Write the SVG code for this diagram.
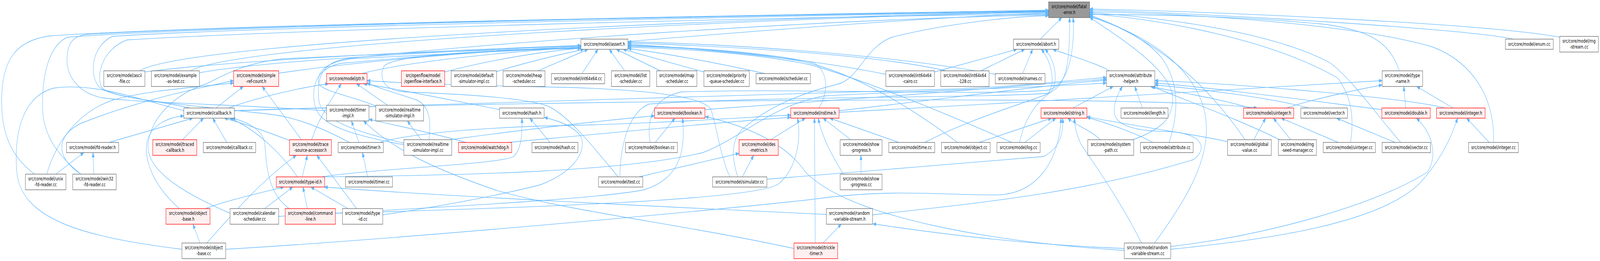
<svg xmlns="http://www.w3.org/2000/svg" width="5919" height="667" viewBox="0 0 5919 667" preserveAspectRatio="none">
<style>
svg{width:100vw;height:100vh;display:block}
.node rect{fill:#ffffff;stroke:#666666;stroke-width:1.33}
.node.red rect{fill:#fff0f0;stroke:#ff0000}
.node.top rect{fill:#999999;stroke:#666666}
.node text{font-family:"DejaVu Sans","Liberation Sans",sans-serif;font-size:13px;text-anchor:middle;fill:#000000}
#edges path{fill:none;stroke:#63b8ff;stroke-width:1.33;marker-end:url(#ah)}
</style>
<defs>
<marker id="ah" viewBox="0 0 12 9" refX="12" refY="4.5" markerWidth="12" markerHeight="9" markerUnits="userSpaceOnUse" orient="auto"><path d="M0,0 L12,4.5 L0,9 Z" fill="#63b8ff" stroke="#63b8ff" stroke-width="1"/></marker>
</defs>
<rect x="0" y="0" width="5919" height="667" fill="#ffffff"/>
<g id="edges">
<path d="M2323,106 C2700,85 3400,45 3879,33"/>
<path d="M3848,100 L3928,45"/>
<path d="M516,181 C700,100 3000,40 3879,30"/>
<path d="M704,181 C900,105 3000,42 3879,31"/>
<path d="M128,445 C40,400 6,340 6,260 C6,150 60,105 180,92 C800,62 3000,36 3879,26"/>
<path d="M299,445 C220,400 157,350 157,270 C157,160 200,110 250,95 C900,62 3000,37 3879,27"/>
<path d="M700,276 C600,258 400,248 375,222 C355,190 380,125 470,102 C1200,72 3000,42 3879,36"/>
<path d="M1208,283 C900,268 500,262 380,250 C300,240 245,200 248,150 C250,110 270,92 320,88 C1000,60 3000,38 3879,28"/>
<path d="M1293,364 C1200,330 1100,300 1000,292 C700,268 420,255 368,223 C330,195 335,120 415,93 C1000,66 3000,40 3879,29"/>
<path d="M1494,366 C1310,335 1200,310 1180,260 C1170,200 1190,160 1280,150 C1800,110 3000,50 3879,38"/>
<path d="M2405,364 C2390,300 2420,250 2520,235 C2900,225 3700,245 3880,230 C3960,215 3975,120 3970,45"/>
<path d="M3772,364 C3790,300 3840,255 3900,230 C3950,205 3957,150 3957,45"/>
<path d="M4191,357 C4300,330 4340,300 4338,250 C4335,180 4150,100 4031,44"/>
<path d="M4325,364 C4355,300 4370,220 4300,150 C4230,90 4100,55 4031,41"/>
<path d="M4606,357 C4520,270 4350,120 4031,38"/>
<path d="M4996,364 C5010,300 5000,250 4950,200 C4700,100 4300,50 4031,35"/>
<path d="M5182,364 C5100,300 5000,200 4919,160 C4700,80 4300,45 4031,32"/>
<path d="M5525,364 C5530,250 5450,160 5300,120 C5000,60 4400,35 4031,30"/>
<path d="M5598,100 C5450,75 4500,35 4031,26"/>
<path d="M5770,95 C5500,60 4500,30 4031,23"/>
<path d="M5177,181 C5140,110 5080,80 4900,62 C4600,42 4300,37 4031,37"/>
<path d="M4271,621 C4400,500 4480,400 4460,300 C4440,200 4300,100 4031,43"/>
<path d="M2729,452 C2705,400 2705,355 2750,328 C2850,268 2980,235 3100,215 C3180,200 3200,120 3300,95 C3500,60 3750,42 3879,40"/>
<path d="M536,184 C900,150 1800,125 2149,116"/>
<path d="M738,186 C1000,152 1800,126 2149,117"/>
<path d="M1031,187 C1400,150 1900,126 2149,119"/>
<path d="M1338,188 C1500,158 1900,130 2149,121"/>
<path d="M1645,184 C1800,155 2000,132 2149,123"/>
<path d="M1837,183 C1950,158 2080,138 2160,126"/>
<path d="M1990,181 C2060,160 2130,140 2175,126"/>
<path d="M2153,188 L2212,126"/>
<path d="M2311,181 L2254,126"/>
<path d="M2443,181 L2280,126"/>
<path d="M2604,184 L2305,126"/>
<path d="M2829,188 C2650,160 2450,135 2323,124"/>
<path d="M1395,272 C1300,245 1200,235 1180,215 C1170,185 1200,160 1300,150 C1700,135 2000,125 2149,121"/>
<path d="M3030,276 C3070,230 3060,180 3010,160 C2800,130 2500,120 2323,116"/>
<path d="M3542,364 C3400,290 3200,200 3000,162 C2800,132 2500,120 2323,118"/>
<path d="M3743,364 C3500,290 3200,205 3000,166 C2800,136 2500,123 2323,121"/>
<path d="M3277,190 C3000,150 2600,125 2323,113"/>
<path d="M3500,181 C3250,140 2700,118 2323,110"/>
<path d="M3682,190 C3300,140 2700,112 2323,107"/>
<path d="M851,545 C700,500 540,440 548,370 C555,300 650,240 760,215 C800,205 880,162 1050,150 C1500,135 1900,126 2149,123"/>
<path d="M2287,452 C2200,380 2110,300 2030,272 C1950,250 1700,240 1500,235 C1420,232 1400,200 1420,170 C1450,140 1800,128 2149,124"/>
<path d="M1494,370 C1300,345 1180,320 1165,270 C1150,220 1170,175 1260,162 C1600,140 1900,126 2149,122"/>
<path d="M3457,184 L3762,126"/>
<path d="M3628,181 L3791,126"/>
<path d="M3783,188 L3820,126"/>
<path d="M3421,364 C3600,300 3800,262 3875,240 C3905,220 3895,160 3852,126"/>
<path d="M2293,452 C2295,380 2320,290 2400,266 C2800,246 3700,250 3880,238 C3915,225 3912,160 3866,126"/>
<path d="M4105,181 C4050,160 3950,140 3895,126"/>
<path d="M799,276 L900,221"/>
<path d="M1115,357 L970,221"/>
<path d="M173,445 C200,380 270,290 420,255 C560,230 700,225 864,212"/>
<path d="M299,445 C200,400 210,345 300,315 C500,260 700,230 864,206"/>
<path d="M845,276 C950,250 1100,225 1215,214"/>
<path d="M1153,357 C1180,300 1230,250 1262,214"/>
<path d="M1434,269 L1319,214"/>
<path d="M1848,280 C1700,260 1450,225 1345,214"/>
<path d="M1587,357 C1595,310 1590,270 1540,255 C1450,235 1400,225 1358,212"/>
<path d="M2700,452 C2665,400 2650,320 2630,280 C2600,240 2300,225 2000,222 C1700,218 1450,211 1358,206"/>
<path d="M403,364 L713,302"/>
<path d="M675,357 L753,302"/>
<path d="M839,364 L787,302"/>
<path d="M1075,360 C1000,340 900,315 830,302"/>
<path d="M1100,452 C1050,400 950,330 850,302"/>
<path d="M1070,533 C990,495 985,420 980,370 C975,330 910,310 858,302"/>
<path d="M663,533 C560,470 530,400 545,360 C560,320 620,300 680,296"/>
<path d="M1118,452 L1137,397"/>
<path d="M1319,533 L1172,397"/>
<path d="M765,621 C850,555 960,465 1096,397"/>
<path d="M760,533 C850,510 980,490 1050,478"/>
<path d="M979,533 L1083,478"/>
<path d="M1137,533 L1121,478"/>
<path d="M1287,533 L1150,478"/>
<path d="M3057,548 C2500,530 1600,500 1200,478"/>
<path d="M1328,364 L1300,309"/>
<path d="M2937,635 C2500,570 2100,540 1830,485 C1600,430 1450,380 1345,309"/>
<path d="M1724,364 C1600,340 1450,318 1365,305"/>
<path d="M1558,357 L1507,309"/>
<path d="M2035,364 L1960,302"/>
<path d="M1190,452 C1400,430 1850,420 1900,400 C1930,380 1932,340 1931,302"/>
<path d="M1416,549 C1700,520 1900,490 2000,472 C2120,440 2170,390 2150,350 C2120,320 2060,308 2014,300"/>
<path d="M2424,364 L2497,302"/>
<path d="M1665,357 C1900,335 2200,310 2421,296"/>
<path d="M1031,553 C1600,530 2200,510 2383,485 C2500,460 2540,400 2525,302"/>
<path d="M4159,640 C3700,620 3150,560 2980,440 C2900,360 2750,320 2609,298"/>
<path d="M1405,364 C1500,345 1700,330 2000,322 C2400,318 2750,300 2925,294"/>
<path d="M1880,364 C2250,340 2700,310 2925,300"/>
<path d="M2851,357 L2979,302"/>
<path d="M3147,357 L3045,302"/>
<path d="M3120,445 C3080,400 3040,350 3027,302"/>
<path d="M3325,364 L3070,302"/>
<path d="M3016,621 L3013,302"/>
<path d="M1241,545 C2000,530 2800,510 2880,470 C2950,430 2965,350 2950,302"/>
<path d="M3622,364 L3890,302"/>
<path d="M3791,364 L3906,302"/>
<path d="M4070,357 C4040,335 3980,320 3950,302"/>
<path d="M4265,364 C4200,340 4100,315 4021,300"/>
<path d="M4541,362 C4400,340 4150,318 4021,298"/>
<path d="M2837,458 C3000,449 3600,415 3860,400 C3920,380 3935,340 3931,302"/>
<path d="M835,637 C1500,610 2600,540 3000,510 C3300,480 3500,500 3700,498 C3850,490 3920,400 3925,302"/>
<path d="M4223,621 C4150,520 4050,420 4000,370 C3980,340 3975,320 3975,302"/>
<path d="M867,283 C1500,268 3000,240 3500,228 C3800,220 3950,205 4093,198"/>
<path d="M2608,280 C3000,262 3700,225 4093,202"/>
<path d="M3104,283 C3500,252 3900,215 4093,205"/>
<path d="M3969,276 L4118,221"/>
<path d="M4226,276 L4198,221"/>
<path d="M4625,276 C4500,250 4350,235 4256,221"/>
<path d="M4842,276 C4700,250 4450,228 4272,217"/>
<path d="M5112,280 C4900,262 4500,225 4272,212"/>
<path d="M5346,276 C5200,250 4600,215 4272,206"/>
<path d="M3228,549 C3600,520 4000,495 4415,408 C4470,380 4450,340 4320,336 C4200,336 4122,320 4122,285 C4122,255 4140,235 4152,221"/>
<path d="M4733,357 C4600,310 4400,260 4262,221"/>
<path d="M1195,452 C1700,448 2300,440 2600,390 C2750,350 2850,270 3050,245 C3400,232 3900,222 4093,212"/>
<path d="M3104,287 C3800,262 4700,222 5113,206"/>
<path d="M4759,276 C4850,255 5000,232 5113,217"/>
<path d="M5200,276 L5193,221"/>
<path d="M5375,276 L5241,221"/>
<path d="M4638,357 L4682,302"/>
<path d="M4775,357 L4711,302"/>
<path d="M4950,364 L4740,302"/>
<path d="M673,637 C300,605 80,560 62,440 C50,330 90,245 200,225 C350,210 520,255 680,283 L867,283 C1500,265 4200,235 4650,276"/>
<path d="M5161,364 L4945,302"/>
<path d="M4331,630 C4700,600 5100,520 5280,440 C5320,400 5300,340 5240,302"/>
<path d="M5509,364 L5426,302"/>
<path d="M4331,637 C4700,612 5100,570 5250,470 C5330,410 5370,350 5392,302"/>
<path d="M207,445 L310,390"/>
<path d="M347,445 L344,390"/>
<path d="M1360,452 L1341,390"/>
<path d="M2364,452 C2500,430 2650,405 2734,392"/>
<path d="M2746,452 L2788,397"/>
<path d="M3185,445 L3185,397"/>
<path d="M3045,621 L3112,573"/>
<path d="M4159,635 C3800,625 3500,600 3229,572"/>
<path d="M740,621 L714,573"/>
</g>
<g id="n_fatal_error_h" class="node top"><rect x="3879" y="5" width="152" height="40"/><text x="3955" y="21.5">src/core/model/fatal</text><text x="3955" y="36.5">-error.h</text></g>
<g id="n_assert_h" class="node"><rect x="2149" y="100" width="174" height="26"/><text x="2236" y="117.5">src/core/model/assert.h</text></g>
<g id="n_abort_h" class="node"><rect x="3749" y="100" width="168" height="26"/><text x="3833" y="117.5">src/core/model/abort.h</text></g>
<g id="n_enum_cc" class="node"><rect x="5569" y="100" width="177" height="26"/><text x="5657.5" y="117.5">src/core/model/enum.cc</text></g>
<g id="n_rng_stream_cc" class="node"><rect x="5770" y="93" width="143" height="40"/><text x="5841.5" y="109.5">src/core/model/rng</text><text x="5841.5" y="124.5">-stream.cc</text></g>
<g id="n_ascii_file_cc" class="node"><rect x="384" y="181" width="152" height="40"/><text x="460" y="197.5">src/core/model/ascii</text><text x="460" y="212.5">-file.cc</text></g>
<g id="n_example_as_test_cc" class="node"><rect x="560" y="181" width="178" height="40"/><text x="649" y="197.5">src/core/model/example</text><text x="649" y="212.5">-as-test.cc</text></g>
<g id="n_simple_ref_count_h" class="node red"><rect x="864" y="181" width="167" height="40"/><text x="947.5" y="197.5">src/core/model/simple</text><text x="947.5" y="212.5">-ref-count.h</text></g>
<g id="n_ptr_h" class="node red"><rect x="1208" y="188" width="150" height="26"/><text x="1283" y="205.5">src/core/model/ptr.h</text></g>
<g id="n_openflow_interface_h" class="node red"><rect x="1485" y="181" width="160" height="40"/><text x="1565" y="197.5">src/openflow/model</text><text x="1565" y="212.5">/openflow-interface.h</text></g>
<g id="n_default_simulator_impl_cc" class="node"><rect x="1669" y="181" width="168" height="40"/><text x="1753" y="197.5">src/core/model/default</text><text x="1753" y="212.5">-simulator-impl.cc</text></g>
<g id="n_heap_scheduler_cc" class="node"><rect x="1861" y="181" width="155" height="40"/><text x="1938.5" y="197.5">src/core/model/heap</text><text x="1938.5" y="212.5">-scheduler.cc</text></g>
<g id="n_int64x64_cc" class="node"><rect x="2040" y="188" width="197" height="26"/><text x="2138.5" y="205.5">src/core/model/int64x64.cc</text></g>
<g id="n_list_scheduler_cc" class="node"><rect x="2262" y="181" width="142" height="40"/><text x="2333" y="197.5">src/core/model/list</text><text x="2333" y="212.5">-scheduler.cc</text></g>
<g id="n_map_scheduler_cc" class="node"><rect x="2429" y="181" width="149" height="40"/><text x="2503.5" y="197.5">src/core/model/map</text><text x="2503.5" y="212.5">-scheduler.cc</text></g>
<g id="n_priority_queue_scheduler_cc" class="node"><rect x="2604" y="181" width="168" height="40"/><text x="2688" y="197.5">src/core/model/priority</text><text x="2688" y="212.5">-queue-scheduler.cc</text></g>
<g id="n_scheduler_cc" class="node"><rect x="2797" y="188" width="201" height="26"/><text x="2897.5" y="205.5">src/core/model/scheduler.cc</text></g>
<g id="n_int64x64_cairo_cc" class="node"><rect x="3277" y="181" width="180" height="40"/><text x="3367" y="197.5">src/core/model/int64x64</text><text x="3367" y="212.5">-cairo.cc</text></g>
<g id="n_int64x64_128_cc" class="node"><rect x="3480" y="181" width="179" height="40"/><text x="3569.5" y="197.5">src/core/model/int64x64</text><text x="3569.5" y="212.5">-128.cc</text></g>
<g id="n_names_cc" class="node"><rect x="3682" y="188" width="184" height="26"/><text x="3774" y="205.5">src/core/model/names.cc</text></g>
<g id="n_attribute_helper_h" class="node"><rect x="4093" y="181" width="179" height="40"/><text x="4182.5" y="197.5">src/core/model/attribute</text><text x="4182.5" y="212.5">-helper.h</text></g>
<g id="n_type_name_h" class="node"><rect x="5113" y="181" width="150" height="40"/><text x="5188" y="197.5">src/core/model/type</text><text x="5188" y="212.5">-name.h</text></g>
<g id="n_callback_h" class="node"><rect x="680" y="276" width="187" height="26"/><text x="773.5" y="293.5">src/core/model/callback.h</text></g>
<g id="n_timer_impl_h" class="node"><rect x="1208" y="269" width="157" height="40"/><text x="1286.5" y="285.5">src/core/model/timer</text><text x="1286.5" y="300.5">-impl.h</text></g>
<g id="n_realtime_simulator_impl_h" class="node"><rect x="1390" y="269" width="177" height="40"/><text x="1478.5" y="285.5">src/core/model/realtime</text><text x="1478.5" y="300.5">-simulator-impl.h</text></g>
<g id="n_hash_h" class="node"><rect x="1848" y="276" width="165" height="26"/><text x="1930.5" y="293.5">src/core/model/hash.h</text></g>
<g id="n_boolean_h" class="node red"><rect x="2421" y="276" width="187" height="26"/><text x="2514.5" y="293.5">src/core/model/boolean.h</text></g>
<g id="n_nstime_h" class="node red"><rect x="2925" y="276" width="179" height="26"/><text x="3014.5" y="293.5">src/core/model/nstime.h</text></g>
<g id="n_string_h" class="node red"><rect x="3851" y="276" width="170" height="26"/><text x="3936" y="293.5">src/core/model/string.h</text></g>
<g id="n_length_h" class="node"><rect x="4147" y="276" width="174" height="26"/><text x="4234" y="293.5">src/core/model/length.h</text></g>
<g id="n_uinteger_h" class="node red"><rect x="4600" y="276" width="186" height="26"/><text x="4693" y="293.5">src/core/model/uinteger.h</text></g>
<g id="n_vector_h" class="node"><rect x="4812" y="276" width="173" height="26"/><text x="4898.5" y="293.5">src/core/model/vector.h</text></g>
<g id="n_double_h" class="node red"><rect x="5112" y="276" width="179" height="26"/><text x="5201.5" y="293.5">src/core/model/double.h</text></g>
<g id="n_integer_h" class="node red"><rect x="5314" y="276" width="180" height="26"/><text x="5404" y="293.5">src/core/model/integer.h</text></g>
<g id="n_fd_reader_h" class="node"><rect x="246" y="364" width="193" height="26"/><text x="342.5" y="381.5">src/core/model/fd-reader.h</text></g>
<g id="n_traced_callback_h" class="node red"><rect x="565" y="357" width="163" height="40"/><text x="646.5" y="373.5">src/core/model/traced</text><text x="646.5" y="388.5">-callback.h</text></g>
<g id="n_callback_cc" class="node"><rect x="752" y="364" width="194" height="26"/><text x="849" y="381.5">src/core/model/callback.cc</text></g>
<g id="n_trace_source_accessor_h" class="node red"><rect x="1071" y="357" width="155" height="40"/><text x="1148.5" y="373.5">src/core/model/trace</text><text x="1148.5" y="388.5">-source-accessor.h</text></g>
<g id="n_timer_h" class="node"><rect x="1251" y="364" width="167" height="26"/><text x="1334.5" y="381.5">src/core/model/timer.h</text></g>
<g id="n_realtime_simulator_impl_cc" class="node"><rect x="1494" y="357" width="177" height="40"/><text x="1582.5" y="373.5">src/core/model/realtime</text><text x="1582.5" y="388.5">-simulator-impl.cc</text></g>
<g id="n_watchdog_h" class="node red"><rect x="1696" y="364" width="197" height="26"/><text x="1794.5" y="381.5">src/core/model/watchdog.h</text></g>
<g id="n_hash_cc" class="node"><rect x="1968" y="364" width="170" height="26"/><text x="2053" y="381.5">src/core/model/hash.cc</text></g>
<g id="n_boolean_cc" class="node"><rect x="2314" y="364" width="192" height="26"/><text x="2410" y="381.5">src/core/model/boolean.cc</text></g>
<g id="n_des_metrics_h" class="node red"><rect x="2734" y="357" width="145" height="40"/><text x="2806.5" y="373.5">src/core/model/des</text><text x="2806.5" y="388.5">-metrics.h</text></g>
<g id="n_show_progress_h" class="node"><rect x="3108" y="357" width="155" height="40"/><text x="3185.5" y="373.5">src/core/model/show</text><text x="3185.5" y="388.5">-progress.h</text></g>
<g id="n_time_cc" class="node"><rect x="3288" y="364" width="170" height="26"/><text x="3373" y="381.5">src/core/model/time.cc</text></g>
<g id="n_object_cc" class="node"><rect x="3483" y="364" width="180" height="26"/><text x="3573" y="381.5">src/core/model/object.cc</text></g>
<g id="n_log_cc" class="node"><rect x="3688" y="364" width="160" height="26"/><text x="3768" y="381.5">src/core/model/log.cc</text></g>
<g id="n_system_path_cc" class="node"><rect x="4024" y="357" width="170" height="40"/><text x="4109" y="373.5">src/core/model/system</text><text x="4109" y="388.5">-path.cc</text></g>
<g id="n_attribute_cc" class="node"><rect x="4219" y="364" width="195" height="26"/><text x="4316.5" y="381.5">src/core/model/attribute.cc</text></g>
<g id="n_global_value_cc" class="node"><rect x="4541" y="357" width="162" height="40"/><text x="4622" y="373.5">src/core/model/global</text><text x="4622" y="388.5">-value.cc</text></g>
<g id="n_rng_seed_manager_cc" class="node"><rect x="4729" y="357" width="141" height="40"/><text x="4799.5" y="373.5">src/core/model/rng</text><text x="4799.5" y="388.5">-seed-manager.cc</text></g>
<g id="n_uinteger_cc" class="node"><rect x="4895" y="364" width="193" height="26"/><text x="4991.5" y="381.5">src/core/model/uinteger.cc</text></g>
<g id="n_vector_cc" class="node"><rect x="5113" y="364" width="179" height="26"/><text x="5202.5" y="381.5">src/core/model/vector.cc</text></g>
<g id="n_integer_cc" class="node"><rect x="5433" y="364" width="184" height="26"/><text x="5525" y="381.5">src/core/model/integer.cc</text></g>
<g id="n_unix_fd_reader_cc" class="node"><rect x="94" y="445" width="150" height="40"/><text x="169" y="461.5">src/core/model/unix</text><text x="169" y="476.5">-fd-reader.cc</text></g>
<g id="n_win32_fd_reader_cc" class="node"><rect x="269" y="445" width="161" height="40"/><text x="349.5" y="461.5">src/core/model/win32</text><text x="349.5" y="476.5">-fd-reader.cc</text></g>
<g id="n_type_id_h" class="node red"><rect x="1022" y="452" width="179" height="26"/><text x="1111.5" y="469.5">src/core/model/type-id.h</text></g>
<g id="n_timer_cc" class="node"><rect x="1278" y="452" width="174" height="26"/><text x="1365" y="469.5">src/core/model/timer.cc</text></g>
<g id="n_test_cc" class="node"><rect x="2214" y="452" width="164" height="26"/><text x="2296" y="469.5">src/core/model/test.cc</text></g>
<g id="n_simulator_cc" class="node"><rect x="2636" y="452" width="201" height="26"/><text x="2736.5" y="469.5">src/core/model/simulator.cc</text></g>
<g id="n_show_progress_cc" class="node"><rect x="3108" y="445" width="155" height="40"/><text x="3185.5" y="461.5">src/core/model/show</text><text x="3185.5" y="476.5">-progress.cc</text></g>
<g id="n_object_base_h" class="node red"><rect x="614" y="533" width="163" height="40"/><text x="695.5" y="549.5">src/core/model/object</text><text x="695.5" y="564.5">-base.h</text></g>
<g id="n_calendar_scheduler_cc" class="node"><rect x="851" y="533" width="180" height="40"/><text x="941" y="549.5">src/core/model/calendar</text><text x="941" y="564.5">-scheduler.cc</text></g>
<g id="n_command_line_h" class="node red"><rect x="1055" y="533" width="186" height="40"/><text x="1148" y="549.5">src/core/model/command</text><text x="1148" y="564.5">-line.h</text></g>
<g id="n_type_id_cc" class="node"><rect x="1267" y="533" width="149" height="40"/><text x="1341.5" y="549.5">src/core/model/type</text><text x="1341.5" y="564.5">-id.cc</text></g>
<g id="n_random_variable_stream_h" class="node"><rect x="3057" y="533" width="171" height="40"/><text x="3142.5" y="549.5">src/core/model/random</text><text x="3142.5" y="564.5">-variable-stream.h</text></g>
<g id="n_object_base_cc" class="node"><rect x="673" y="621" width="162" height="40"/><text x="754" y="637.5">src/core/model/object</text><text x="754" y="652.5">-base.cc</text></g>
<g id="n_trickle_timer_h" class="node red"><rect x="2937" y="621" width="162" height="40"/><text x="3018" y="637.5">src/core/model/trickle</text><text x="3018" y="652.5">-timer.h</text></g>
<g id="n_random_variable_stream_cc" class="node"><rect x="4159" y="621" width="172" height="40"/><text x="4245" y="637.5">src/core/model/random</text><text x="4245" y="652.5">-variable-stream.cc</text></g>
</svg>
